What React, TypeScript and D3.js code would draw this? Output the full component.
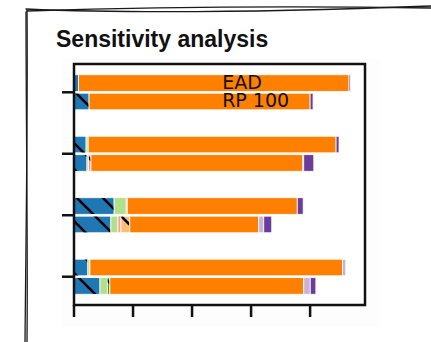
import React from "react";
import * as d3 from "d3";

const W = 431;
const H = 342;

// 8 bars: 4 scenarios x (EAD, RP 100)
const scenarios = [0, 1, 2, 3];
const barKinds = ["EAD", "RP 100"];
const categories = ["c1", "c2", "c3", "c4", "c5", "c6", "c7", "c8"];
const colors = ["#1f78b4", "#b2df8a", "#33a02c", "#fb9a99", "#fdbf6f", "#ff7f00", "#cab2d6", "#6a3d9a"];
const hatched = [true, false, true, true, true, false, false, false];

const c1 = [1.5, 5.1, 4.1, 4.4, 13.6, 12.5, 4.7, 8.8];
const c2 = [0, 0, 0.7, 0.5, 4.1, 2.4, 0.7, 2.5];
const c3 = [0, 0, 0, 0, 0, 0, 0, 0.85];
const c4 = [0, 0, 0, 0.85, 0.35, 1.0, 0, 0];
const c5 = [0, 0, 0, 0, 0, 3.0, 0, 0];
const c6 = [91.7, 74.9, 84.0, 71.8, 57.6, 43.7, 85.6, 65.7];
const c7 = [0, 0, 0, 0.3, 0, 1.7, 1.1, 2.2];
const c8 = [0.5, 1.0, 1.0, 3.4, 2.0, 2.7, 0, 1.9];
const seriesValues = [c1, c2, c3, c4, c5, c6, c7, c8];

const xTicks = [0, 20, 40, 60, 80];

export default function App() {
  const left = 74, right = 365, top = 64, bottom = 305;
  const x = d3.scaleLinear().domain([0, 98.6]).range([left, right]);
  const y = d3.scaleLinear().domain([-0.46, 3.46]).range([top, bottom]);

  const rows = c1.map((_, i) => {
    const r: any = { i };
    categories.forEach((c, k) => (r[c] = seriesValues[k][i]));
    return r;
  });
  const stacked = d3.stack().keys(categories)(rows);

  const barY = (i: number) => {
    const g = Math.floor(i / 2);
    const sub = i % 2;
    const c = g;
    return sub === 0 ? [y(c - 0.285), y(c - 0.015)] : [y(c + 0.015), y(c + 0.285)];
  };

  const tick = 12;

  return (
    <svg width={W} height={H} style={{ position: "absolute", left: 0, top: 0 }} xmlns="http://www.w3.org/2000/svg">
      <defs>
        <pattern id="hatch" patternUnits="userSpaceOnUse" width={26} height={26} patternTransform="translate(9,0)">
          <line x1={0} y1={0} x2={26} y2={26} stroke="#000" strokeWidth={2.6} />
          <line x1={-3} y1={23} x2={3} y2={29} stroke="#000" strokeWidth={2.6} />
          <line x1={23} y1={-3} x2={29} y2={3} stroke="#000" strokeWidth={2.6} />
        </pattern>
      </defs>
      <rect x={0} y={0} width={W} height={H} fill="#fff" />
      {/* sketchy outer frame */}
      <g fill="none" stroke="#1a1a1a" strokeWidth={1.3} strokeLinecap="round">
        <path d="M27,11 C120,8 250,5 431,8" />
        <path d="M26,9 C140,14 300,11 431,6" />
        <path d="M27,10 C28,100 26,230 25,342" />
        <path d="M26,12 C26,120 28,250 27,342" />
      </g>
      <text x={56} y={47} fontFamily="'Liberation Sans', Arial, sans-serif" fontWeight="bold" fontSize={23} fill="#111">
        Sensitivity analysis
      </text>
      <rect x={62} y={58} width={318} height={269} fill="#fdfdfd" />
      <rect x={left} y={top} width={right - left} height={bottom - top} fill="#fff" />
      {/* bars */}
      {stacked.map((s, k) => (
        <g key={categories[k]}>
          {s.map((d, i) => {
            const w = x(d[1]) - x(d[0]);
            if (w <= 0) return null;
            const [y0, y1] = barY(i);
            return (
              <g key={i}>
                <rect x={x(d[0])} y={y0} width={w} height={y1 - y0} fill={colors[k]} stroke="#fff" strokeWidth={0.8} />
                {hatched[k] && (
                  <rect x={x(d[0]) + 0.4} y={y0 + 0.4} width={Math.max(0, w - 0.8)} height={y1 - y0 - 0.8} fill="url(#hatch)" />
                )}
              </g>
            );
          })}
        </g>
      ))}
      {/* labels */}
      <text x={x(50.2)} y={y(-0.055)} fontFamily="'DejaVu Sans', sans-serif" fontSize={19} fill="#111">
        {barKinds[0]}
      </text>
      <text x={x(50.2)} y={y(0.245)} fontFamily="'DejaVu Sans', sans-serif" fontSize={19} fill="#111">
        {barKinds[1]}
      </text>
      {/* axes box */}
      <rect x={left} y={top} width={right - left} height={bottom - top} fill="none" stroke="#111" strokeWidth={2.5} />
      {/* y ticks */}
      {scenarios.map((s) => (
        <line key={s} x1={left - tick} x2={left} y1={y(s)} y2={y(s)} stroke="#111" strokeWidth={2.5} />
      ))}
      {/* x ticks */}
      {xTicks.map((t) => (
        <line key={t} x1={x(t)} x2={x(t)} y1={bottom} y2={bottom + tick} stroke="#111" strokeWidth={2.5} />
      ))}
    </svg>
  );
}
